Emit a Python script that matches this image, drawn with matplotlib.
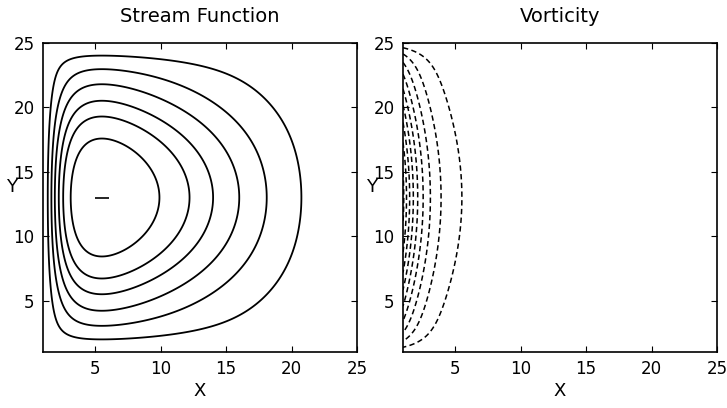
import matplotlib.pyplot as plt
import numpy as np

# basin spans grid points 1..25 in both directions
x_min, x_max = 1, 25
y_min, y_max = 1, 25
ticks = [5, 10, 15, 20, 25]

# western boundary layer width (grid units)
delta = 1.7
# extra steepening of the profile next to the north and south walls
wall_boost = 1.53
wall_width = 1.75

# x where each stream function contour crosses the mid-basin line y = 13
y_mid = 13
psi_crossings = [20.75, 18.1, 16.0, 14.0, 12.2, 9.9]

# outermost vorticity contour crosses y = 13 here, the others follow at equal steps
vort_outer_crossing = 5.5
n_vort_levels = 10


def x_profile(xx):
    # Stommel-type gyre: western boundary layer + linear interior
    s = xx - x_min
    L = x_max - x_min
    fx = 1 - s / L - np.exp(-s / delta)
    fxx = -np.exp(-s / delta) / delta**2
    return fx, fxx


def y_profile(yy):
    k = np.pi / (y_max - y_min)
    edge = np.exp(-(yy - y_min) / wall_width) + np.exp(-(y_max - yy) / wall_width)
    return np.sin(k * (yy - y_min)) * (1 + wall_boost * edge)


def stream(xx, yy):
    fx, _ = x_profile(xx)
    return fx * y_profile(yy)


def vorticity(xx, yy):
    # dominated by the curvature of the western boundary layer
    fx, fxx = x_profile(xx)
    k = np.pi / (y_max - y_min)
    return (fxx - k**2 * fx) * y_profile(yy)


x = np.linspace(x_min, x_max, 481)
y = np.linspace(y_min, y_max, 481)
X, Y = np.meshgrid(x, y)
psi = stream(X, Y)
zeta = vorticity(X, Y)

psi_levels = [stream(xc, y_mid) for xc in psi_crossings]
vort_step = -vorticity(vort_outer_crossing, y_mid)
vort_levels = -vort_step * np.arange(n_vort_levels, 0, -1)

fig = plt.figure(figsize=(7.27, 4.08), dpi=100)
ax1 = fig.add_axes([43 / 727, 1 - 352 / 408, 314 / 727, 309 / 408])
ax2 = fig.add_axes([403 / 727, 1 - 352 / 408, 314 / 727, 309 / 408])

ax1.contour(X, Y, psi, levels=psi_levels, colors="k", linewidths=1.3)
# the maximum is marked with a short dash
j, i = np.unravel_index(np.argmax(psi), psi.shape)
ax1.plot(x[i], y[j], marker="_", color="k", markersize=10, mew=1.2)

ax2.contour(X, Y, zeta, levels=vort_levels, colors="k", linewidths=1.1,
            linestyles=[(0, (3.5, 2.2))])

for ax, title in [(ax1, "Stream Function"), (ax2, "Vorticity")]:
    ax.set_xlim(x_min, x_max)
    ax.set_ylim(y_min, y_max)
    ax.set_xticks(ticks)
    ax.set_yticks(ticks)
    ax.tick_params(direction="in", top=True, right=True, length=4,
                   labelsize=12, pad=6)
    for sp in ax.spines.values():
        sp.set_linewidth(1.2)
    ax.set_title(title, fontsize=14, pad=15)
    ax.set_xlabel("X", fontsize=13, labelpad=3)
    ax.set_ylabel("Y", fontsize=13, rotation=0, va="center")
    ax.yaxis.set_label_coords(-0.1, 0.534)

fig.savefig("out.png", dpi=100)
